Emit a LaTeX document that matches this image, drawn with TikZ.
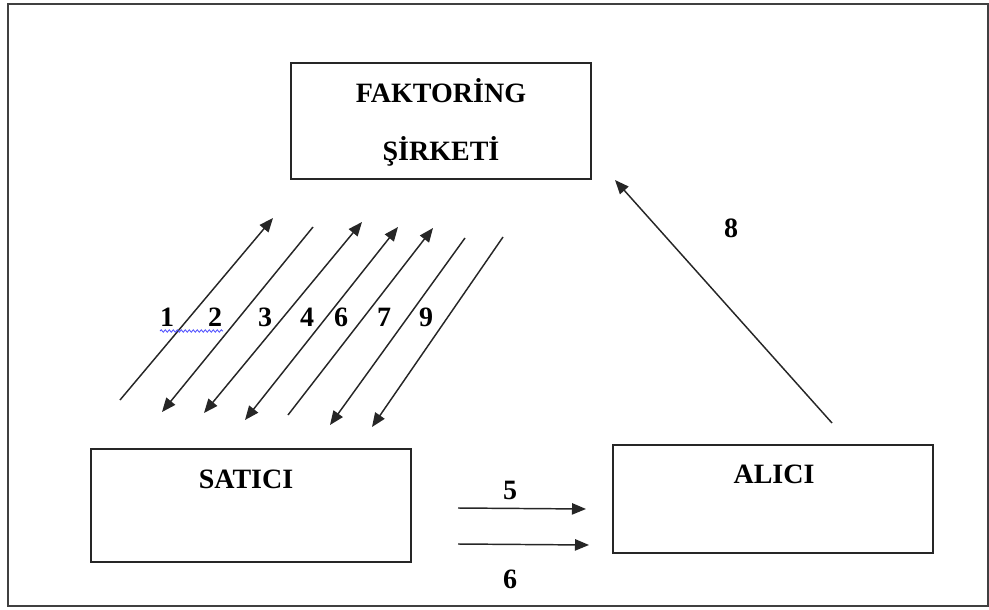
\documentclass[tikz,border=0pt]{standalone}
\usepackage{fontspec}
\setmainfont{Liberation Serif}
\usetikzlibrary{arrows.meta,decorations.pathmorphing}
\begin{document}
\begin{tikzpicture}[x=0.75pt,y=-0.75pt,
  box/.style={draw=black!85,line width=1.4pt,inner sep=0pt},
  lbl/.style={font=\bfseries\fontsize{21}{25}\selectfont,inner sep=0pt,anchor=base},
  arr/.style={line width=1.1pt,draw=black!85,-{Triangle[length=10.5pt,width=8.5pt]}},
  darr/.style={line width=1.1pt,draw=black!85,{Triangle[length=10.5pt,width=8.5pt]}-{Triangle[length=10.5pt,width=8.5pt]}}]
\useasboundingbox (0,0) rectangle (989,610);
\draw[line width=1.5pt,draw=black!75] (8,4) rectangle (988,606);
% boxes
\node[box,minimum width=225pt,minimum height=87pt] (fak) at (441,121) {};
\node[box,minimum width=240pt,minimum height=84.75pt] (sat) at (251,505.5) {};
\node[box,minimum width=240pt,minimum height=81pt] (ali) at (773,499) {};
\node[lbl] (fak1) at (441,103) {FAKTORİNG};
\node[lbl] (fak2) at (441,160) {ŞİRKETİ};
\node[lbl] (sat1) at (246,488) {SATICI};
\node[lbl] (ali1) at (774,483) {ALICI};
% diagonal arrows
\coordinate (a1s) at (120,400);   \coordinate (a1e) at (273,218);
\coordinate (a2s) at (313,227);   \coordinate (a2e) at (162,412);
\coordinate (a3s) at (204,413);   \coordinate (a3e) at (362,222);
\coordinate (a4s) at (245,420);   \coordinate (a4e) at (398,227);
\coordinate (a5s) at (288,415);   \coordinate (a5e) at (433,228);
\coordinate (a6s) at (465,238);   \coordinate (a6e) at (330,425);
\coordinate (a7s) at (503,237);   \coordinate (a7e) at (372,427);
\draw[arr] (a1s) -- (a1e);
\draw[arr] (a2s) -- (a2e);
\draw[darr] (a3s) -- (a3e);
\draw[darr] (a4s) -- (a4e);
\draw[arr] (a5s) -- (a5e);
\draw[arr] (a6s) -- (a6e);
\draw[arr] (a7s) -- (a7e);
\node[lbl] (n1) at (167,326) {1};
\node[lbl] (n2) at (215,326) {2};
\node[lbl] (n3) at (265,326) {3};
\node[lbl] (n4) at (307,326) {4};
\node[lbl] (n6) at (341,326) {6};
\node[lbl] (n7) at (384,326) {7};
\node[lbl] (n9) at (426,326) {9};
\coordinate (wv1) at (160,331); \coordinate (wv2) at (223,331);
\draw[blue!70,line width=0.6pt,decorate,decoration={snake,amplitude=0.9pt,segment length=3pt}] (wv1) -- (wv2);
% horizontal arrows
\coordinate (h5s) at (458,508); \coordinate (h5e) at (586,509);
\coordinate (h6s) at (458,544); \coordinate (h6e) at (589,545);
\draw[arr] (h5s) -- (h5e);
\draw[arr] (h6s) -- (h6e);
\node[lbl] (n5) at (510,499) {5};
\node[lbl] (n6b) at (510,588) {6};
% arrow 8
\coordinate (e8s) at (832,423); \coordinate (e8e) at (615,180);
\draw[arr] (e8s) -- (e8e);
\node[lbl] (n8) at (731,237) {8};
\end{tikzpicture}
\end{document}
